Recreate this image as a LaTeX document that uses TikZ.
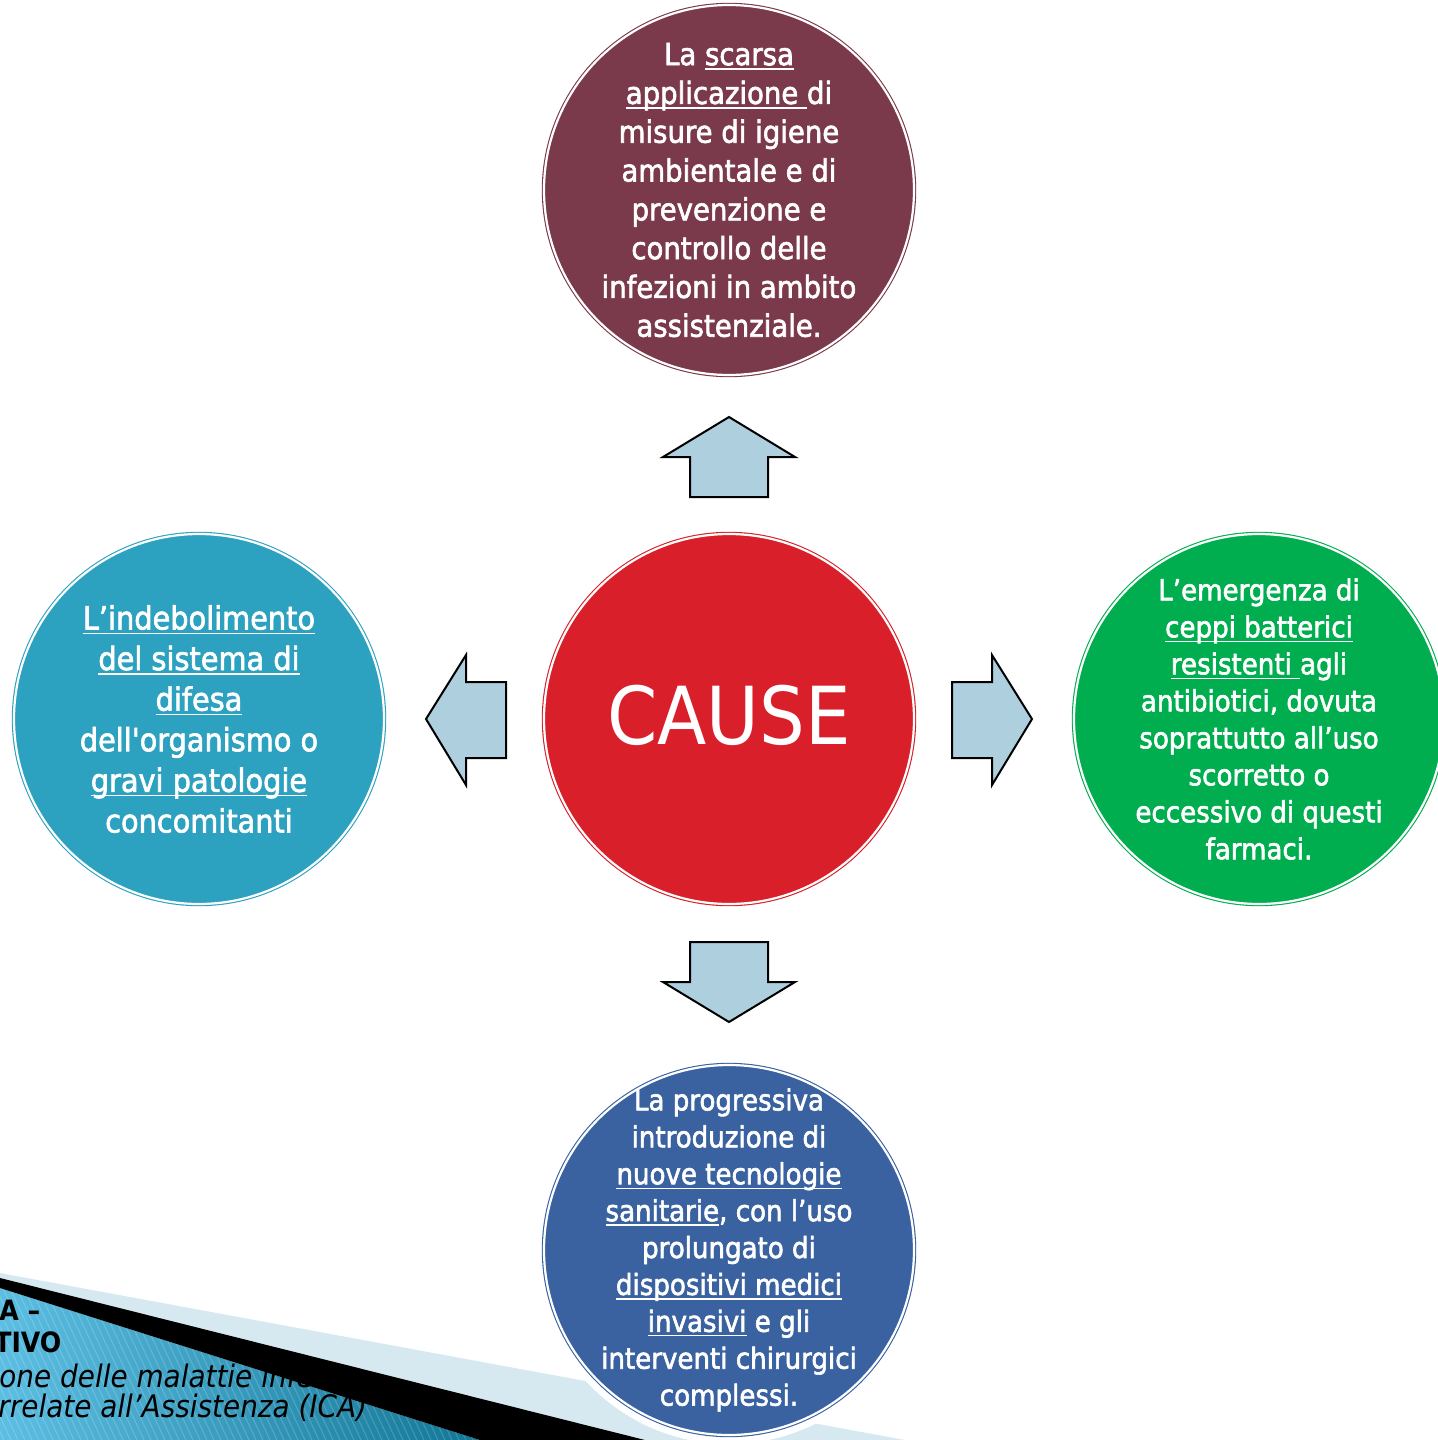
\documentclass[tikz,border=0pt]{standalone}
\usepackage{fontspec}
\newfontfamily\cf[FakeBold=2]{DejaVu Sans Condensed}
\newfontfamily\cfr{DejaVu Sans Condensed}
\newfontfamily\cfb{DejaVu Sans Condensed Bold}
\newfontfamily\cfi{DejaVu Sans Condensed Oblique}
\definecolor{cmaroon}{RGB}{123,58,75}
\definecolor{cred}{RGB}{217,31,42}
\definecolor{cteal}{RGB}{45,162,192}
\definecolor{cgreen}{RGB}{0,173,79}
\definecolor{cblue}{RGB}{58,98,160}
\definecolor{carrow}{RGB}{174,207,221}
\definecolor{cpale}{RGB}{214,233,240}
\definecolor{ccyanL}{RGB}{92,190,226}
\definecolor{ccyanD}{RGB}{18,118,150}
\newcommand\myul[1]{\setbox0\hbox{#1}\rlap{\rule[-2.3pt]{\wd0}{0.65pt}}\box0\relax}
\begin{document}
\begin{tikzpicture}[x=0.5pt,y=-0.5pt,
  bubble/.style={circle, minimum size=185pt, inner sep=0pt, draw=#1, fill=#1,
    double=white, double distance=1.1pt, line width=0.55pt},
  btext/.style={text=white, align=center, inner sep=0pt},
  blockarrow/.style={fill=carrow, draw=black, line width=1pt, line join=miter},
  slidetext/.style={text=black, inner sep=0pt}]
\useasboundingbox (0,0) rectangle (1437,1440);
% slide decoration, bottom left
\fill[cpale] (0,1273) -- (905,1440) -- (0,1440) -- cycle;
\shade[left color=ccyanL, right color=ccyanD] (0,1288) -- (480,1440) -- (0,1440) -- cycle;
\begin{scope}
  \clip (0,1288) -- (480,1440) -- (0,1440) -- cycle;
  \foreach \s in {-120,-113,...,480}
    \draw[white, opacity=0.18, line width=0.5pt] (\s,1280) -- (\s+75,1440);
\end{scope}
\node[slidetext, anchor=base west, font=\cfb\fontsize{14}{17}\selectfont] (t1) at (-1,1320) {A –};
\node[slidetext, anchor=base west, font=\cfb\fontsize{14}{17}\selectfont] (t2) at (-6,1352) {TIVO};
\node[slidetext, anchor=base west, font=\cfi\fontsize{15.5}{18}\selectfont] (t3) at (-1,1387) {one delle malattie infe};
\node[slidetext, anchor=base west, font=\cfi\fontsize{15.5}{18}\selectfont] (t4) at (-2,1417) {rrelate all’Assistenza (ICA)};
\fill[black] (0,1278) -- (645,1440) -- (480,1440) -- (0,1288) -- cycle;
% white halo of the bottom circle
\fill[white] (729,1250) circle[radius=97pt];
% circles
\node[bubble=cred] (cause) at (729,719) {};
\node[bubble=cmaroon] (top) at (729,190) {};
\node[bubble=cgreen] (right) at (1259,719) {};
\node[bubble=cteal] (left) at (199,719) {};
\node[bubble=cblue] (bottom) at (729,1250) {};
% texts
\node[btext, font=\cfr\fontsize{40}{44}\selectfont] (causeT) at ([yshift=2pt]cause.center) {CAUSE};
\node[btext, font=\cf\fontsize{15.3}{19.4}\selectfont] (topT) at (top.center) {La \myul{scarsa}\\
\myul{applicazione }di\\
misure di igiene\\
ambientale e di\\
prevenzione e\\
controllo delle\\
infezioni in ambito\\
assistenziale.};
\node[btext, font=\cf\fontsize{14.5}{18.5}\selectfont] (rightT) at (right.center) {L’emergenza di\\
\myul{ceppi batterici}\\
\myul{resistenti }agli\\
antibiotici, dovuta\\
soprattutto all’uso\\
scorretto o\\
eccessivo di questi\\
farmaci.};
\node[btext, font=\cf\fontsize{16}{20.3}\selectfont] (leftT) at (left.center) {\myul{L’indebolimento}\\
\myul{del sistema di}\\
\myul{difesa}\\
dell\textquotesingle organismo o\\
\myul{gravi patologie}\\
concomitanti};
\node[btext, font=\cf\fontsize{14.5}{18.45}\selectfont] (bottomT) at (bottom.center) {La progressiva\\
introduzione di\\
\myul{nuove tecnologie}\\
\myul{sanitarie}, con l’uso\\
prolungato di\\
\myul{dispositivi medici}\\
\myul{invasivi} e gli\\
interventi chirurgici\\
complessi.};
% block arrows
\draw[blockarrow] (729,417) -- (795,457) -- (768,457) -- (768,497) -- (690,497) -- (690,457) -- (663,457) -- cycle;
\draw[blockarrow] (426,719) -- (466,655) -- (466,682) -- (506,682) -- (506,758) -- (466,758) -- (466,785) -- cycle;
\draw[blockarrow] (1032,719) -- (992,655) -- (992,682) -- (952,682) -- (952,758) -- (992,758) -- (992,785) -- cycle;
\draw[blockarrow] (729,1022) -- (795,982) -- (768,982) -- (768,942) -- (690,942) -- (690,982) -- (663,982) -- cycle;
\end{tikzpicture}
\end{document}
